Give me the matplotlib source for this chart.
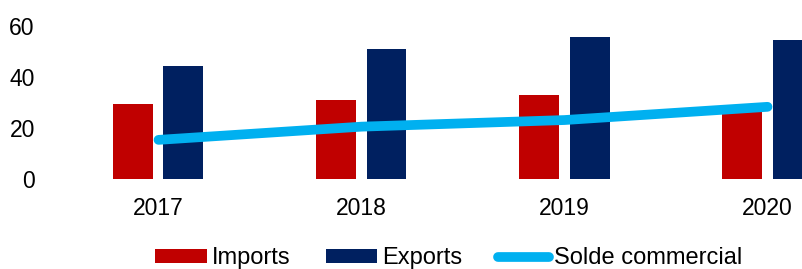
import numpy as np
import matplotlib.pyplot as plt

plt.rcParams['font.family'] = ['Liberation Sans', 'DejaVu Sans']

# données
years = ['2017', '2018', '2019', '2020']
imports = [29.2, 30.9, 32.9, 27.0]
exports = [44.4, 51.0, 55.8, 54.3]
solde = [15.2, 20.4, 23.0, 28.2]

fig = plt.figure(figsize=(8.02, 2.69), dpi=100)
# l'axe dépasse à droite comme sur l'original (dernière barre coupée)
ax = fig.add_axes([0.0711, 0.3364, 1.0125, 0.567])

x = np.arange(len(years))
w = 0.197
b1 = ax.bar(x - 0.126, imports, w, color='#C00000', label='Imports')
b2 = ax.bar(x + 0.123, exports, w, color='#002060', label='Exports')
l1, = ax.plot(x, solde, color='#00B0F0', lw=7, solid_capstyle='round', label='Solde commercial')

ax.set_xlim(-0.5, 3.5)
ax.set_ylim(0, 60)
ax.set_yticks([0, 20, 40, 60])
ax.set_xticks(x)
ax.set_xticklabels(years)
ax.tick_params(axis='both', length=0, labelsize=16.5)
ax.tick_params(axis='x', pad=13)
ax.tick_params(axis='y', pad=16)
for s in ax.spines.values():
    s.set_visible(False)

fig.legend(handles=[b1, b2, l1], loc='center', bbox_to_anchor=(0.5597, 0.04), ncol=3,
           frameon=False, fontsize=17, handlelength=2.2, handleheight=0.5,
           handletextpad=0.21, columnspacing=1.48, borderaxespad=0, borderpad=0)

fig.savefig('out.png', dpi=100)
